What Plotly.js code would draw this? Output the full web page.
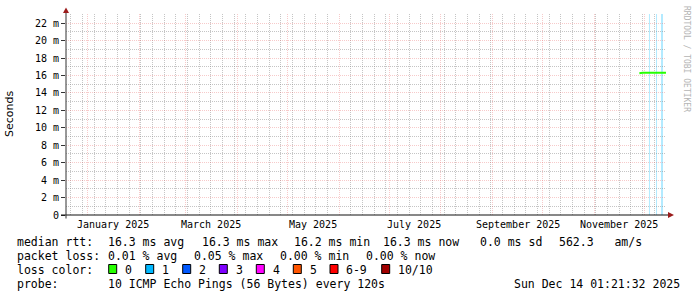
<!DOCTYPE html>
<html><head><meta charset="utf-8">
<script src="https://cdn.plot.ly/plotly-3.0.1.min.js"></script>
<style>html,body{margin:0;padding:0;background:#fff}#chart{width:697px;height:297px}</style>
</head><body><div id="chart"></div>
<script>
// ---- data ----
const timeStart = '2024-12-19 01:21:32';
const timeEnd = '2025-12-14 01:21:32';
const medianTimes = ['2025-11-28 02:00','2025-11-29 00:00','2025-11-30 00:00','2025-12-01 00:00','2025-12-02 00:00','2025-12-03 00:00','2025-12-04 00:00','2025-12-05 00:00','2025-12-06 00:00','2025-12-07 00:00','2025-12-08 00:00','2025-12-09 00:00','2025-12-10 00:00','2025-12-11 00:00','2025-12-12 00:00','2025-12-13 00:00','2025-12-14 01:00'];
const medianMs = [16.25,16.3,16.3,16.3,16.3,16.3,16.3,16.3,16.3,16.3,16.3,16.3,16.25,16.3,16.3,16.3,16.3];
const lossStart = ['2025-12-03 20:00','2025-12-08 01:30','2025-12-11 01:30'];
const lossEnd   = ['2025-12-04 10:30','2025-12-08 16:00','2025-12-12 06:00'];
const yTickVals = [0,2,4,6,8,10,12,14,16,18,20,22];
const yTickText = ['0','2 m','4 m','6 m','8 m','10 m','12 m','14 m','16 m','18 m','20 m','22 m'];
const yMinorVals = [1,3,5,7,9,11,13,15,17,19,21,23];
const xLabelDates = ['2025-01-16','2025-03-16','2025-05-16','2025-07-16','2025-09-16','2025-11-16'];
const xLabels = ['January 2025','March 2025','May 2025','July 2025','September 2025','November 2025'];
const legendRtt = ['median rtt:','16.3 ms avg','16.3 ms max','16.2 ms min','16.3 ms now','0.0 ms sd','562.3   am/s'];
const legendLoss = ['packet loss:','0.01 % avg','0.05 % max','0.00 % min','0.00 % now'];
const lossLabels = ['0','1','2','3','4','5','6-9','10/10'];
const lossColors = ['#26ff00','#00b8ff','#0059ff','#7e00ff','#ff00ff','#ff5500','#ff0000','#a10000'];
const probeText = ['probe:','10 ICMP Echo Pings (56 Bytes) every 120s'];
const stampText = 'Sun Dec 14 01:21:32 2025';

// ---- layout helpers (pixel -> paper) ----
const L=66, R=666, T=14, B=215;
const px = x => (x-L)/(R-L);
const py = y => (B-y)/(B-T);
const nb = s => s.replace(/ /g,'\u00a0');
const mono = 'DejaVu Sans Mono, monospace';

const annotations = [];
const shapes = [];
function txt(s, x, y, opts={}) {
  annotations.push(Object.assign({text: nb(s), xref:'paper', yref:'paper', x: px(x), y: py(y),
    xanchor:'left', yanchor:'middle', showarrow:false, borderpad:0,
    font:{family:mono, size:11.5, color:'#000'}}, opts));
}

xLabelDates.forEach((d,i)=>annotations.push({text: xLabels[i], xref:'x', yref:'paper', x:d, y:py(224.5),
  xanchor:'center', yanchor:'middle', showarrow:false, borderpad:0, font:{family:mono,size:10,color:'#000'}}));

const rttX = [16,107.3,201,293.3,382.3,479.3,558.3];
legendRtt.forEach((s,i)=>txt(s, rttX[i], 241.5));
const lossX = [16,107.3,193.3,279.3,365];
legendLoss.forEach((s,i)=>txt(s, lossX[i], 255.5));
txt('loss color:', 16, 269.5);
const boxX = [108.7,145.7,182.7,219.3,256.3,293.3,330,381.7];
lossLabels.forEach((s,i)=>{
  shapes.push({type:'rect', xref:'paper', yref:'paper', x0:px(boxX[i]), x1:px(boxX[i]+8), y0:py(273.5), y1:py(264.5),
    fillcolor: lossColors[i], line:{color:'#000', width:1}});
  txt(s, boxX[i]+15.3, 269.5);
});
txt(probeText[0], 16, 283.5);
txt(probeText[1], 107.3, 283.5);
txt(stampText, 680.5, 283.5, {xanchor:'right'});

annotations.push({text:'Seconds', xref:'paper', yref:'paper', x:px(10), y:py(114), textangle:-90,
  xanchor:'center', yanchor:'middle', showarrow:false, font:{family:'DejaVu Sans', size:11, color:'#000'}});
annotations.push({text:'RRDTOOL / TOBI OETIKER', xref:'paper', yref:'paper', x:px(686), y:py(59), textangle:90,
  xanchor:'center', yanchor:'middle', showarrow:false, font:{family:mono, size:8, color:'#b4b4b4'}});

lossStart.forEach((s,i)=>shapes.push({type:'rect', xref:'x', yref:'paper', x0:s, x1:lossEnd[i], y0:0, y1:1,
  fillcolor:'rgba(0,184,255,0.3)', line:{width:0}, layer:'below'}));

shapes.push({type:'line', xref:'paper', yref:'paper', x0:px(61), x1:px(669), y0:0, y1:0, line:{color:'#111', width:1}});
shapes.push({type:'line', xref:'paper', yref:'paper', x0:0, x1:0, y0:py(218.5), y1:py(12), line:{color:'#333', width:1}});
shapes.push({type:'path', xref:'paper', yref:'paper', path:`M ${px(63)} ${py(13)} L ${px(69)} ${py(13)} L ${px(66)} ${py(7.5)} Z`,
  fillcolor:'#9b1c1c', line:{width:0}});
shapes.push({type:'path', xref:'paper', yref:'paper', path:`M ${px(668)} ${py(212)} L ${px(668)} ${py(218)} L ${px(674)} ${py(215)} Z`,
  fillcolor:'#9b1c1c', line:{width:0}});

const traces = [{
  type:'scatter', mode:'lines', x: medianTimes, y: medianMs,
  line:{color:'#26ff00', width:2}, hoverinfo:'skip'
}];

const gridRed = 'rgba(230,90,90,0.32)';
const gridGrey = 'rgba(140,140,140,0.5)';
const layout = {
  width:697, height:297, autosize:false, showlegend:false,
  margin:{l:L, r:697-R, t:T, b:297-B, pad:0},
  paper_bgcolor:'#fff', plot_bgcolor:'#fff',
  xaxis:{type:'date', range:[timeStart, timeEnd], tickmode:'linear', tick0:'2025-01-01', dtick:'M1',
    showticklabels:false, ticks:'', showgrid:true, gridcolor:gridRed, griddash:'1px,1px', gridwidth:1,
    zeroline:false, showline:false,
    minor:{tickmode:'linear', tick0:'2024-12-22', dtick:604800000, showgrid:true, gridcolor:gridGrey, griddash:'1px,1px', gridwidth:1, ticks:''}},
  yaxis:{range:[0, 23.05], tickmode:'array', tickvals: yTickVals, ticktext: yTickText,
    ticks:'outside', ticklen:4, tickcolor:'#333', tickwidth:1,
    tickfont:{family:mono, size:10, color:'#000'},
    showgrid:true, gridcolor:gridRed, griddash:'1px,1px', gridwidth:1, zeroline:false, showline:false,
    minor:{tickmode:'array', tickvals: yMinorVals, showgrid:true, gridcolor:gridGrey, griddash:'1px,1px', gridwidth:1, ticks:''}},
  annotations, shapes
};
Plotly.newPlot('chart', traces, layout, {staticPlot:true, displayModeBar:false});
</script></body></html>
